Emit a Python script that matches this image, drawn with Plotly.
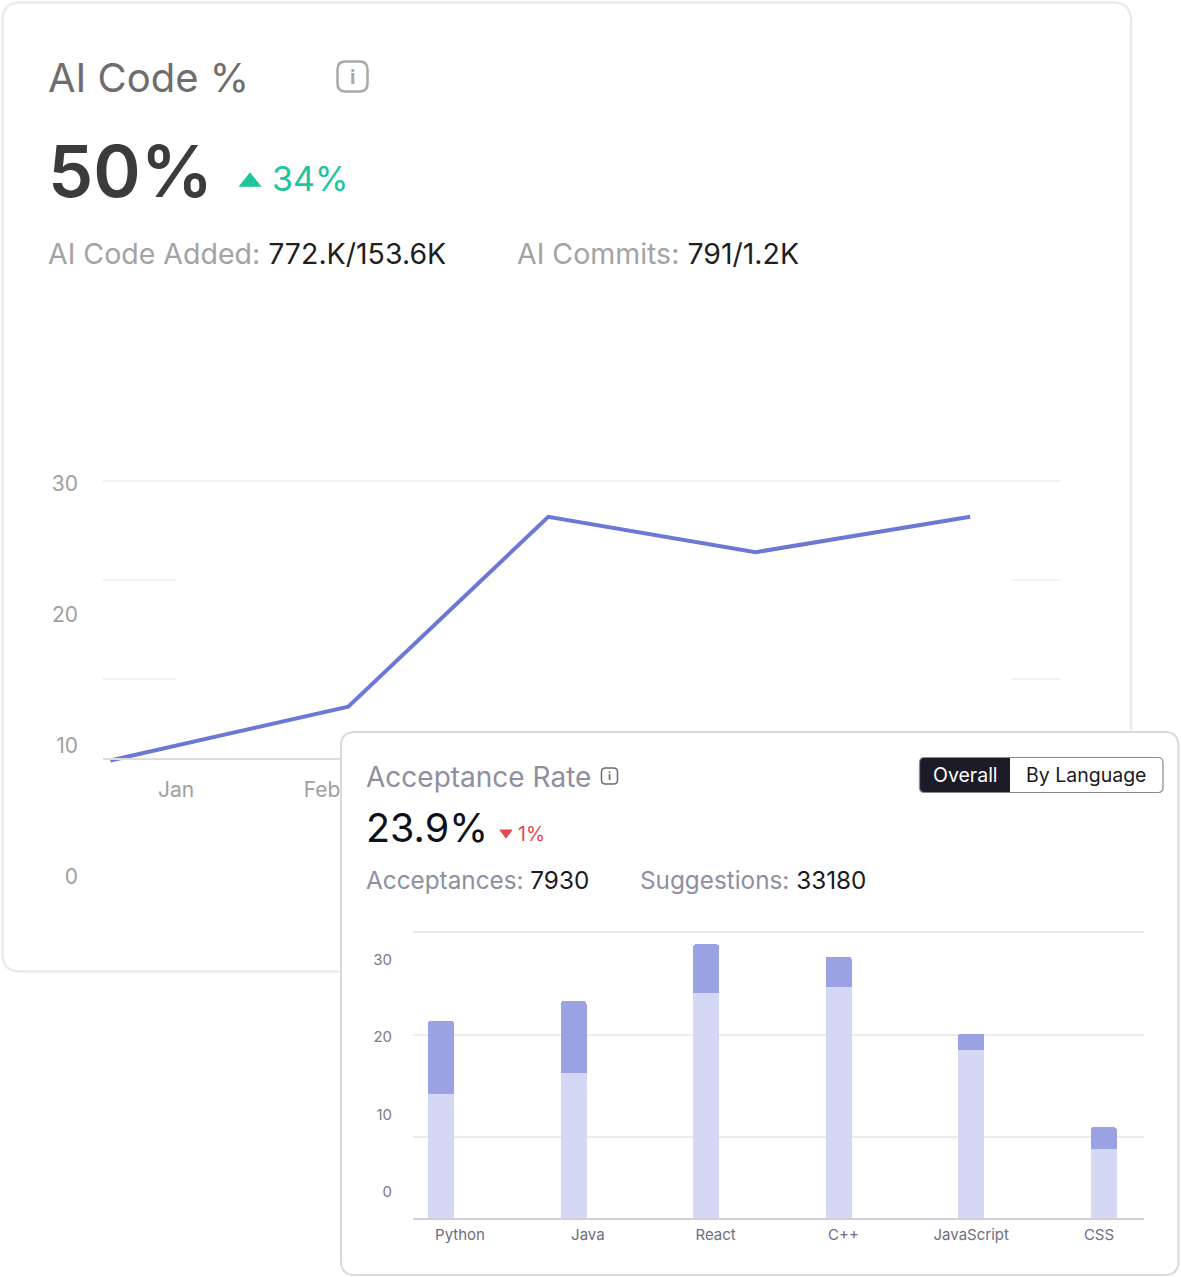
import plotly.graph_objects as go

W, H = 1181, 1277

# ---- data ----
months = ["Jan", "Feb"]                          # the other month labels sit under the second card
ai_code_x = [-0.45, 1.18, 2.55, 3.97, 5.44]     # position in months
ai_code_y = [8.9, 13.0, 27.5, 24.8, 27.5]

languages = ["Python", "Java", "React", "C++", "JavaScript", "CSS"]
accepted = [16.0, 18.7, 29.0, 29.8, 21.7, 8.9]
rest = [9.4, 9.3, 6.3, 3.9, 2.1, 2.8]

line_ticks = [0, 10, 20, 30]
bar_ticks = [0, 10, 20, 30]

FONT = "Inter, 'Noto Sans', sans-serif"


def px(x):
    return x / W


def py(y):
    return 1 - y / H


def rrect(x0, y0, x1, y1, r, left_only=False):
    # rounded rectangle in paper coords (pixel input)
    rr = 0 if left_only else r
    pts = [
        ("M", x0 + r, y0), ("L", x1 - rr, y0), ("Q", x1, y0, x1, y0 + rr),
        ("L", x1, y1 - rr), ("Q", x1, y1, x1 - rr, y1), ("L", x0 + r, y1),
        ("Q", x0, y1, x0, y1 - r), ("L", x0, y0 + r), ("Q", x0, y0, x0 + r, y0),
    ]
    out = ""
    for p in pts:
        cmd, vals = p[0], p[1:]
        coords = []
        for i in range(0, len(vals), 2):
            coords.append("%.5f,%.5f" % (px(vals[i]), py(vals[i + 1])))
        out += cmd + " ".join(coords) + " "
    return out + "Z"


def tri(pts):
    return "M" + " L".join("%.5f,%.5f" % (px(a), py(b)) for a, b in pts) + " Z"


fig = go.Figure()

fig.add_trace(go.Scatter(
    x=ai_code_x, y=ai_code_y, mode="lines",
    line=dict(color="#6c78d6", width=4),
    xaxis="x", yaxis="y", hoverinfo="skip", showlegend=False,
))

# empty traces so the cover subplot and the label axis get built
fig.add_trace(go.Scatter(x=[None], y=[None], xaxis="x2", yaxis="y2", showlegend=False, hoverinfo="skip"))

fig.add_trace(go.Bar(
    x=languages, y=accepted, width=0.196, marker=dict(color="#d5d8f4", line=dict(width=0)),
    xaxis="x3", yaxis="y3", showlegend=False,
))
fig.add_trace(go.Bar(
    x=languages, y=rest, width=0.196,
    marker=dict(color="#9ba2e3", line=dict(width=0), cornerradius=3),
    xaxis="x3", yaxis="y3", showlegend=False,
))
fig.add_trace(go.Scatter(x=[None], y=[None], xaxis="x4", yaxis="y3", showlegend=False, hoverinfo="skip"))

grey_lbl = dict(family=FONT, size=21, color="#a0a0a0")
bar_lbl = dict(family=FONT, size=15, color="#7b7b8a")

fig.update_layout(
    width=W, height=H, margin=dict(l=0, r=0, t=0, b=0, autoexpand=False),
    paper_bgcolor="white", plot_bgcolor="white",
    barmode="stack", showlegend=False,
    font=dict(family=FONT),
    # line chart
    xaxis=dict(
        domain=[px(103), px(1060)], range=[-0.5, 6.055],
        anchor="free", position=py(759),
        tickmode="array", tickvals=list(range(len(months))), ticktext=months,
        showgrid=False, zeroline=False, showline=True, linecolor="#dcdcdc", linewidth=2,
        ticks="", ticklabelstandoff=12, tickfont=grey_lbl, fixedrange=True,
    ),
    yaxis=dict(
        domain=[py(890), py(475)], range=[-0.99, 30.69], anchor="x",
        tickmode="array", tickvals=line_ticks,
        showgrid=False, zeroline=False, showline=False,
        ticks="", ticklabelstandoff=24, tickfont=grey_lbl, fixedrange=True,
    ),
    # white cover for the second card (sits above the first card)
    xaxis2=dict(domain=[px(341), px(1179)], anchor="y2", range=[0, 1],
                showgrid=False, zeroline=False, showline=False, showticklabels=False, ticks=""),
    yaxis2=dict(domain=[py(1275), py(732)], anchor="x2", range=[0, 1],
                showgrid=False, zeroline=False, showline=False, showticklabels=False, ticks=""),
    # bar chart
    xaxis3=dict(
        domain=[px(413), px(1144)], anchor="y3", type="category",
        categoryorder="array", categoryarray=languages, range=[-0.211, 5.304],
        showgrid=False, zeroline=False, showline=True, linecolor="#d0d0d8", linewidth=1.5,
        showticklabels=False, ticks="", fixedrange=True,
    ),
    xaxis4=dict(
        domain=[px(413), px(1144)], anchor="y3", overlaying="x3", side="bottom",
        range=[-0.368, 5.352], tickmode="array",
        tickvals=list(range(len(languages))), ticktext=languages,
        showgrid=False, zeroline=False, showline=False,
        ticks="", ticklabelstandoff=6, tickfont=dict(family=FONT, size=15, color="#6e6e7e"),
        fixedrange=True,
    ),
    yaxis3=dict(
        domain=[py(1218), py(925)], anchor="x3", range=[0, 37.8],
        tickmode="array", tickvals=bar_ticks,
        showgrid=False, zeroline=False, showline=False,
        ticks="", ticklabelstandoff=20, ticklabelshift=-26, tickfont=bar_lbl, fixedrange=True,
    ),
)

shapes = []
# card 1 (below everything)
shapes.append(dict(type="path", path=rrect(2.5, 2.5, 1131, 971.5, 18), xref="paper", yref="paper",
                   line=dict(color="#ebebeb", width=2.5), layer="below"))
# faint gridlines of the line chart
for y0, segs in [(481, [(103, 1060)]), (580, [(103, 176), (1012, 1060)]), (679, [(103, 176), (1012, 1060)])]:
    for a, b in segs:
        shapes.append(dict(type="line", xref="paper", yref="paper", x0=px(a), x1=px(b), y0=py(y0), y1=py(y0),
                           line=dict(color="#f2f2f2", width=2), layer="below"))
# info icon card 1
shapes.append(dict(type="path", path=rrect(337.5, 61.5, 367.5, 91.5, 8), xref="paper", yref="paper",
                   line=dict(color="#a9a9a9", width=2.5), layer="below"))
# green up triangle
shapes.append(dict(type="path", path=tri([(240, 186), (250, 173.5), (260, 186)]), xref="paper", yref="paper",
                   fillcolor="#1ec49b", line=dict(color="#1ec49b", width=1.5), layer="below"))

# bar chart gridlines inside the bar subplot
for gv in [10.45, 23.6, 36.9]:
    shapes.append(dict(type="line", xref="x3", yref="y3", x0=-0.211, x1=5.304, y0=gv, y1=gv,
                       line=dict(color="#ebebf2", width=2), layer="below"))

# card 2 border and its widgets (above)
shapes.append(dict(type="path", path=rrect(341, 732, 1178.5, 1275, 14), xref="paper", yref="paper",
                   line=dict(color="#dadada", width=2), layer="above"))
shapes.append(dict(type="path", path=rrect(601.5, 768, 617.5, 784, 4), xref="paper", yref="paper",
                   line=dict(color="#6a6a72", width=1.5), layer="above"))
shapes.append(dict(type="path", path=tri([(500, 830), (512, 830), (506, 838)]), xref="paper", yref="paper",
                   fillcolor="#e5484d", line=dict(color="#e5484d", width=1), layer="above"))
shapes.append(dict(type="path", path=rrect(919.5, 757.5, 1010, 792.5, 5, left_only=True), xref="paper",
                   yref="paper", fillcolor="#1b1c27", line=dict(width=0), layer="above"))
shapes.append(dict(type="path", path=rrect(919.5, 757.5, 1163, 792.5, 5), xref="paper", yref="paper",
                   line=dict(color="#8a8a8a", width=1.2), layer="above"))
fig.update_layout(shapes=shapes)


def note(text, x, y, size, color, xanchor="left", weight=None):
    f = dict(family=FONT, size=size, color=color)
    if weight:
        f["weight"] = weight
    fig.add_annotation(text=text, x=px(x), y=py(y), xref="paper", yref="paper",
                       xanchor=xanchor, yanchor="middle", showarrow=False, font=f)


G1 = "#a3a3a3"
note("AI Code %", 46, 78, 40, "#6e6e6e")
note("i", 352, 77, 20, "#a9a9a9", xanchor="center", weight=700)
note("50%", 46, 170, 72, "#3b3b3b", weight=600)
note("34%", 270, 179, 34, "#1ec49b")
note('<span style="color:%s">AI Code Added:</span> 772.K/153.6K' % G1, 46, 254, 28.5, "#1f1f1f")
note('<span style="color:%s">AI Commits:</span> 791/1.2K' % G1, 515, 254, 28.5, "#1f1f1f")

G2 = "#8e8fa0"
note("Acceptance Rate", 364, 777, 28, G2)
note("i", 609.5, 776, 11, "#6a6a72", xanchor="center", weight=700)
note("23.9%", 364, 828, 39.5, "#0f101c")
note("1%", 516, 834, 19.5, "#e5484d")
note('<span style="color:%s">Acceptances:</span> 7930' % G2, 364, 880, 24.3, "#1a1a22")
note('<span style="color:%s">Suggestions:</span> 33180' % G2, 638, 880, 24.3, "#1a1a22")
note("Overall", 965, 775, 19.5, "white", xanchor="center")
note("By Language", 1086, 775, 19.5, "#1b1b1b", xanchor="center")

page_fix = (
    "document.documentElement.style.margin='0';document.body.style.margin='0';"
    "document.documentElement.style.overflow='hidden';document.body.style.overflow='hidden';"
)
fig.write_html("out.html", config={"displayModeBar": False}, post_script=page_fix)
